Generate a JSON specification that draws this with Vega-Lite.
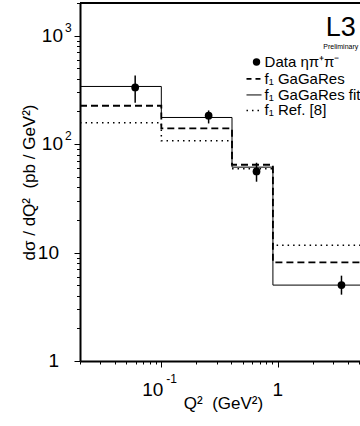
{
  "$schema": "https://vega.github.io/schema/vega-lite/v6.json",
  "width": 280,
  "height": 358,
  "autosize": {"type": "none"},
  "padding": {"left": 80, "top": 3, "right": 0, "bottom": 65},
  "background": "white",
  "config": {"view": {"stroke": null}, "font": "Liberation Sans"},
  "datasets": {
    "steps": [
      {"q": 0.02, "v": 340, "s": "fit"},
      {"q": 0.1, "v": 176, "s": "fit"},
      {"q": 0.405, "v": 61.3, "s": "fit"},
      {"q": 0.91, "v": 5.01, "s": "fit"},
      {"q": 5.1, "v": 5.01, "s": "fit"},
      {"q": 0.02, "v": 225.7, "s": "gagares"},
      {"q": 0.1, "v": 139.4, "s": "gagares"},
      {"q": 0.405, "v": 64.5, "s": "gagares"},
      {"q": 0.91, "v": 8.12, "s": "gagares"},
      {"q": 5.1, "v": 8.12, "s": "gagares"},
      {"q": 0.02, "v": 157.3, "s": "ref"},
      {"q": 0.1, "v": 107.4, "s": "ref"},
      {"q": 0.405, "v": 59.3, "s": "ref"},
      {"q": 0.91, "v": 11.7, "s": "ref"},
      {"q": 5.1, "v": 11.7, "s": "ref"}
    ],
    "pts": [
      {"q": 0.0596, "v": 333, "lo": 240.6, "hi": 429},
      {"q": 0.255, "v": 182.6, "lo": 155, "hi": 204.3},
      {"q": 0.658, "v": 56, "lo": 45, "hi": 67.3},
      {"q": 3.535, "v": 5.01, "lo": 4.09, "hi": 6.12}
    ]
  },
  "layer": [
    {
      "data": {"name": "steps"},
      "transform": [{"filter": "datum.s == 'fit'"}],
      "mark": {"type": "line", "interpolate": "step-after", "color": "black", "strokeWidth": 1, "clip": true},
      "encoding": {
        "x": {
          "field": "q", "type": "quantitative",
          "scale": {"type": "log", "domain": [0.02, 5.1], "nice": false},
          "axis": {
            "title": "Q²\u00a0\u00a0(GeV²)", "titleFont": "Liberation Sans", "titleFontSize": 17, "titleFontWeight": "normal",
            "titleColor": "black", "titlePadding": 28, "titleX": 143, "labels": false, "grid": false,
            "values": [0.02, 0.03, 0.04, 0.05, 0.06, 0.07, 0.08, 0.09, 0.1, 0.2, 0.3, 0.4, 0.5, 0.6, 0.7, 0.8, 0.9, 1, 2, 3, 4, 5],
            "tickSize": {"condition": {"test": "datum.value == 0.1 || datum.value == 1", "value": 6}, "value": 3},
            "tickColor": "black", "tickWidth": 1, "domainColor": "black", "domainWidth": 2
          }
        },
        "y": {
          "field": "v", "type": "quantitative",
          "scale": {"type": "log", "domain": [1, 2000], "nice": false},
          "axis": {
            "title": "dσ / dQ²\u00a0\u00a0(pb / GeV²)", "titleFont": "Liberation Sans", "titleFontSize": 17, "titleFontWeight": "normal",
            "titleColor": "black", "titlePadding": 35, "labels": false, "grid": false,
            "values": [1, 2, 3, 4, 5, 6, 7, 8, 9, 10, 20, 30, 40, 50, 60, 70, 80, 90, 100, 200, 300, 400, 500, 600, 700, 800, 900, 1000, 2000],
            "tickSize": {"condition": {"test": "datum.value == 1 || datum.value == 10 || datum.value == 100 || datum.value == 1000", "value": 6}, "value": 3.5},
            "tickColor": "black", "tickWidth": 1, "domainColor": "black", "domainWidth": 2
          }
        }
      }
    },
    {
      "data": {"name": "steps"},
      "transform": [{"filter": "datum.s == 'gagares'"}],
      "mark": {"type": "line", "interpolate": "step-after", "color": "black", "strokeWidth": 1.8, "strokeDash": [7, 4], "clip": true},
      "encoding": {"x": {"field": "q", "type": "quantitative"}, "y": {"field": "v", "type": "quantitative"}}
    },
    {
      "data": {"name": "steps"},
      "transform": [{"filter": "datum.s == 'ref'"}],
      "mark": {"type": "line", "interpolate": "step-after", "color": "black", "strokeWidth": 1.5, "strokeDash": [1.5, 4], "clip": true},
      "encoding": {"x": {"field": "q", "type": "quantitative"}, "y": {"field": "v", "type": "quantitative"}}
    },
    {
      "data": {"name": "pts"},
      "mark": {"type": "rule", "color": "black", "strokeWidth": 1.5},
      "encoding": {"x": {"field": "q", "type": "quantitative"}, "y": {"field": "lo", "type": "quantitative"}, "y2": {"field": "hi"}}
    },
    {
      "data": {"name": "pts"},
      "mark": {"type": "point", "shape": "circle", "filled": true, "color": "black", "opacity": 1, "size": 60},
      "encoding": {"x": {"field": "q", "type": "quantitative"}, "y": {"field": "v", "type": "quantitative"}}
    },
    {
      "data": {"values": [{}]},
      "mark": {"type": "rule", "color": "black", "strokeWidth": 2},
      "encoding": {"y": {"datum": 2000, "type": "quantitative"}}
    },
    {
      "data": {"values": [{"v": 1000, "b": "10", "e": "3"}, {"v": 100, "b": "10", "e": "2"}]},
      "mark": {"type": "text", "align": "right", "baseline": "middle", "dx": -17, "fontSize": 19, "font": "Liberation Sans", "color": "black"},
      "encoding": {"x": {"datum": 0.02, "type": "quantitative"}, "y": {"field": "v", "type": "quantitative"}, "text": {"field": "b"}}
    },
    {
      "data": {"values": [{"v": 1000, "b": "10", "e": "3"}, {"v": 100, "b": "10", "e": "2"}]},
      "mark": {"type": "text", "align": "left", "baseline": "middle", "dx": -15, "dy": -8, "fontSize": 12, "font": "Liberation Sans", "color": "black"},
      "encoding": {"x": {"datum": 0.02, "type": "quantitative"}, "y": {"field": "v", "type": "quantitative"}, "text": {"field": "e"}}
    },
    {
      "data": {"values": [{"v": 10, "b": "10"}, {"v": 1, "b": "1"}]},
      "mark": {"type": "text", "align": "right", "baseline": "middle", "dx": -21, "fontSize": 19, "font": "Liberation Sans", "color": "black"},
      "encoding": {"x": {"datum": 0.02, "type": "quantitative"}, "y": {"field": "v", "type": "quantitative"}, "text": {"field": "b"}}
    },
    {
      "data": {"values": [{"q": 0.1, "b": "10", "e": "-1"}]},
      "mark": {"type": "text", "align": "right", "baseline": "alphabetic", "dx": 2, "dy": 35, "fontSize": 19, "font": "Liberation Sans", "color": "black"},
      "encoding": {"x": {"field": "q", "type": "quantitative"}, "y": {"datum": 1, "type": "quantitative"}, "text": {"field": "b"}}
    },
    {
      "data": {"values": [{"q": 0.1, "b": "10", "e": "-1"}]},
      "mark": {"type": "text", "align": "left", "baseline": "alphabetic", "dx": 5, "dy": 22, "fontSize": 12, "font": "Liberation Sans", "color": "black"},
      "encoding": {"x": {"field": "q", "type": "quantitative"}, "y": {"datum": 1, "type": "quantitative"}, "text": {"field": "e"}}
    },
    {
      "data": {"values": [{"q": 1, "b": "1"}]},
      "mark": {"type": "text", "align": "center", "baseline": "alphabetic", "dy": 35, "fontSize": 19, "font": "Liberation Sans", "color": "black"},
      "encoding": {"x": {"field": "q", "type": "quantitative"}, "y": {"datum": 1, "type": "quantitative"}, "text": {"field": "b"}}
    },
    {
      "data": {"values": [{}]},
      "mark": {"type": "text", "text": "L3", "align": "center", "baseline": "alphabetic", "fontSize": 27, "font": "Liberation Sans", "color": "black"},
      "encoding": {"x": {"datum": 3.487, "type": "quantitative"}, "y": {"datum": 1000, "type": "quantitative"}}
    },
    {
      "data": {"values": [{}]},
      "mark": {"type": "text", "text": "Preliminary", "align": "center", "baseline": "middle", "fontSize": 7, "font": "Liberation Sans", "color": "black"},
      "encoding": {"x": {"datum": 3.487, "type": "quantitative"}, "y": {"datum": 794, "type": "quantitative"}}
    },
    {
      "data": {"values": [{}]},
      "mark": {"type": "point", "shape": "circle", "filled": true, "color": "black", "opacity": 1, "size": 55},
      "encoding": {"x": {"datum": 0.658, "type": "quantitative"}, "y": {"datum": 571.8, "type": "quantitative"}}
    },
    {
      "data": {"values": [{}]},
      "mark": {"type": "text", "text": "Data ηπ⁺π⁻", "align": "left", "baseline": "middle", "fontSize": 15, "font": "Liberation Sans", "color": "black"},
      "encoding": {"x": {"datum": 0.7712, "type": "quantitative"}, "y": {"datum": 571.8, "type": "quantitative"}}
    },
    {
      "data": {"values": [{}]},
      "mark": {"type": "rule", "color": "black", "strokeWidth": 1.8, "strokeDash": [5, 4]},
      "encoding": {"x": {"datum": 0.5395, "type": "quantitative"}, "x2": {"datum": 0.7266}, "y": {"datum": 398.6, "type": "quantitative"}}
    },
    {
      "data": {"values": [{}]},
      "mark": {"type": "text", "text": "f₁ GaGaRes", "align": "left", "baseline": "middle", "fontSize": 15, "font": "Liberation Sans", "color": "black"},
      "encoding": {"x": {"datum": 0.7712, "type": "quantitative"}, "y": {"datum": 398.6, "type": "quantitative"}}
    },
    {
      "data": {"values": [{}]},
      "mark": {"type": "rule", "color": "black", "strokeWidth": 1},
      "encoding": {"x": {"datum": 0.5395, "type": "quantitative"}, "x2": {"datum": 0.7266}, "y": {"datum": 283.9, "type": "quantitative"}}
    },
    {
      "data": {"values": [{}]},
      "mark": {"type": "text", "text": "f₁ GaGaRes fit", "align": "left", "baseline": "middle", "fontSize": 15, "font": "Liberation Sans", "color": "black"},
      "encoding": {"x": {"datum": 0.7712, "type": "quantitative"}, "y": {"datum": 283.9, "type": "quantitative"}}
    },
    {
      "data": {"values": [{}]},
      "mark": {"type": "rule", "color": "black", "strokeWidth": 1.5, "strokeDash": [1.5, 4]},
      "encoding": {"x": {"datum": 0.5395, "type": "quantitative"}, "x2": {"datum": 0.7266}, "y": {"datum": 204.3, "type": "quantitative"}}
    },
    {
      "data": {"values": [{}]},
      "mark": {"type": "text", "text": "f₁ Ref. [8]", "align": "left", "baseline": "middle", "fontSize": 15, "font": "Liberation Sans", "color": "black"},
      "encoding": {"x": {"datum": 0.7712, "type": "quantitative"}, "y": {"datum": 204.3, "type": "quantitative"}}
    }
  ]
}
